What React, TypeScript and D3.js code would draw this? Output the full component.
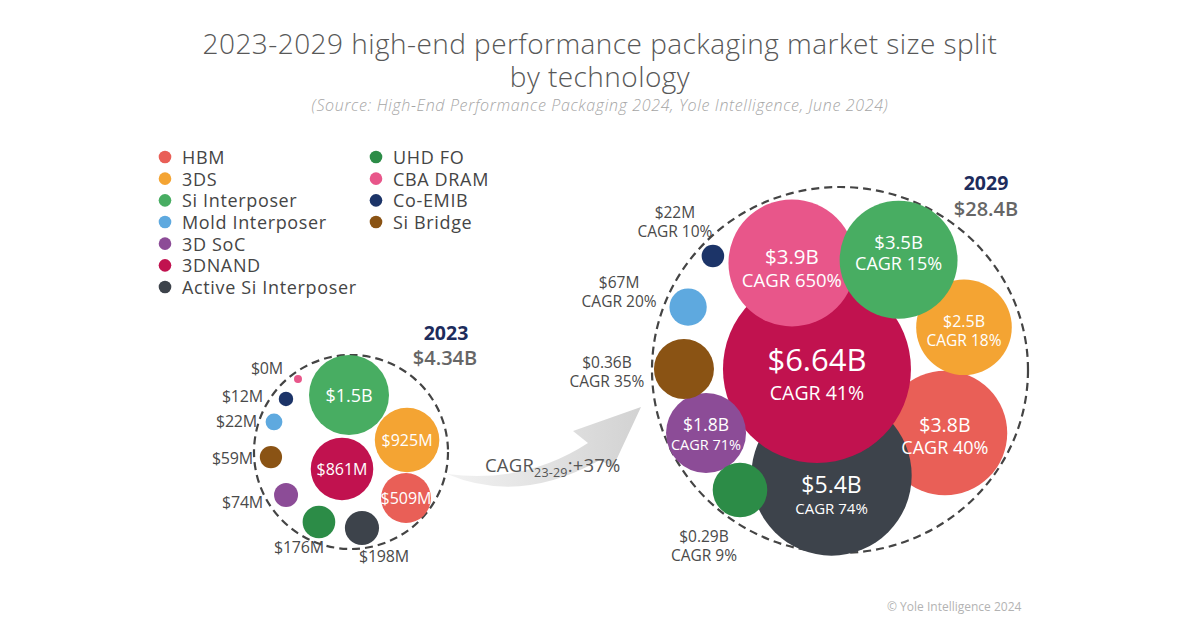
import React from "react";
import * as d3 from "d3";

// ---------- DATA ----------
const technologies = [
  "HBM", "3DS", "Si Interposer", "Mold Interposer", "3D SoC", "3DNAND",
  "Active Si Interposer", "UHD FO", "CBA DRAM", "Co-EMIB", "Si Bridge",
];
const techColors = [
  "#e95f57", "#f4a433", "#48ad62", "#5ea9df", "#8c4c97", "#c1124f",
  "#3d434b", "#2c8c47", "#e8568a", "#1c3468", "#8a5314",
];
const values2023M = [509, 925, 1500, 22, 74, 861, 198, 176, 0, 12, 59];
const labels2023 = ["$509M", "$925M", "$1.5B", "$22M", "$74M", "$861M", "$198M", "$176M", "$0M", "$12M", "$59M"];
const values2029B = [3.8, 2.5, 3.5, 0.067, 1.8, 6.64, 5.4, 0.29, 3.9, 0.022, 0.36];
const labels2029 = ["$3.8B", "$2.5B", "$3.5B", "$67M", "$1.8B", "$6.64B", "$5.4B", "$0.29B", "$3.9B", "$22M", "$0.36B"];
const cagr2329 = [40, 18, 15, 20, 71, 41, 74, 9, 650, 10, 35];
const years = ["2023", "2029"];
const totals = ["$4.34B", "$28.4B"];
const totalCagr = 37;

// ---------- LAYOUT (placement only) ----------
// polar placement of each bubble in its cluster: [angle deg, distance as share of cluster radius]
const place2023: [number, number][] = [
  [39.9, 0.739], [-12.1, 0.591], [-92, 0.588], [-158.7, 0.852], [146.5, 0.803], [117.9, 0.198],
  [81.8, 0.792], [114.6, 0.794], [-126, 0.93], [-140.8, 0.865], [176.4, 0.827],
];
const place2029: [number, number][] = [
  [31, 0.658], [-19, 0.705], [-62, 0.671], [-157.5, 0.884], [154.8, 0.796], [182.5, 0.124],
  [94.6, 0.569], [129.8, 0.84], [-114.2, 0.631], [-138.1, 0.918], [180.4, 0.839],
];
// label placement 2023: inside | [anchor, dx, dy]
const lab2023: (null | [string, number, number])[] = [
  null, null, null, ["end", -17, -1], ["end", -23, 7], null,
  ["middle", 22, 28], ["middle", -20, 25], ["end", -15, -11], ["end", -23, -3], ["end", -18, 1],
];
const inner2023Size = [16, 16, 18, 0, 0, 16, 0, 0, 0, 0, 0];
// label placement 2029: inside [valueSize, cagrSize, valueDy, cagrDy] | outside [dx, dy]
const lab2029: any[] = [
  { s: [19.5, 18, -9, 14] }, { s: [16, 15.5, -6, 13] }, { s: [18.5, 18, -18, 3] },
  { o: [-69, -25] }, { s: [17.5, 14.5, -9, 11] }, { s: [31, 19.5, -10, 24] },
  { s: [23, 15, 9, 33] }, { o: [-36, 46] }, { s: [20.5, 18.5, -7, 17] },
  { o: [-38, -44] }, { o: [-77, -7] },
];
const order2029 = [0, 1, 6, 5, 8, 2, 4, 10, 3, 9, 7];

const FONT = "'Open Sans', 'Noto Sans', sans-serif";
const W = 1200, H = 630;

const c23 = { x: 351, y: 452, r: 97 };
const c29 = { x: 840, y: 370, rx: 188, ry: 183, r: 186 };

const r2023 = d3.scaleSqrt().domain([0, 1500]).range([4, 40]);
const r2029 = d3.scaleLinear().domain([0, 0.05, 0.36, 1.8, 6.64]).range([6, 18, 30, 40, 94]);

function polar(c: { x: number; y: number; r: number }, p: [number, number]) {
  const a = (p[0] * Math.PI) / 180;
  return { x: c.x + Math.cos(a) * p[1] * c.r, y: c.y + Math.sin(a) * p[1] * c.r };
}

const bubbles23 = technologies.map((t, i) => ({ i, ...polar(c23, place2023[i]), r: r2023(values2023M[i]) }));
const bubbles29 = technologies.map((t, i) => ({ i, ...polar(c29, place2029[i]), r: r2029(values2029B[i]) }));

export default function App() {
  const textCol = "#4a4a4a";
  const legendY = d3.scaleLinear().domain([0, 6]).range([157, 287]);
  return (
    <svg width={W} height={H} style={{ position: "absolute", left: 0, top: 0, background: "#fff" }} fontFamily={FONT}>
      <defs>
        <linearGradient id="arrowGrad" x1="0" x2="1" y1="0" y2="0">
          <stop offset="0" stopColor="#f2f2f2" />
          <stop offset="1" stopColor="#d2d2d2" />
        </linearGradient>
      </defs>
      <rect width={W} height={H} fill="#fff" />
      {/* Title */}
      <text x={600} y={54} textAnchor="middle" fontSize={28} fontWeight={300} fill="#585858" letterSpacing={0.45}>
        2023-2029 high-end performance packaging market size split
      </text>
      <text x={600} y={87} textAnchor="middle" fontSize={28} fontWeight={300} fill="#585858" letterSpacing={0.45}>
        by technology
      </text>
      <text x={600} y={111} textAnchor="middle" fontSize={16} fontStyle="italic" fontWeight={300} fill="#a6a6a6" letterSpacing={0.65}>
        (Source: High-End Performance Packaging 2024, Yole Intelligence, June 2024)
      </text>

      {/* Legend */}
      {technologies.map((t, i) => {
        const col = i < 7 ? 0 : 1;
        const row = col === 0 ? i : i - 7;
        const y = legendY(row);
        const x = col === 0 ? 165 : 376;
        return (
          <g key={t}>
            <circle cx={x} cy={y} r={6.3} fill={techColors[i]} />
            <text x={x + 17} y={y} dominantBaseline="central" fontSize={18} fontWeight={500} fill="#454545" letterSpacing={0.65}>
              {t}
            </text>
          </g>
        );
      })}

      {/* Arrow */}
      <path
        d="M447,474 Q520,505 600,460 L613,467 L641,407 L573,431 L588,443 Q525,484 447,474 Z"
        fill="url(#arrowGrad)"
      />
      <text x={485} y={472} fontSize={18.5} fontWeight={500} fill="#555" letterSpacing={0.2}>
        CAGR
        <tspan fontSize={12.5} dy={5}>23-29</tspan>
        <tspan dy={-5}>:+{totalCagr}%</tspan>
      </text>

      {/* 2023 cluster */}
      <circle cx={c23.x} cy={c23.y} r={c23.r} fill="none" stroke="#444" strokeWidth={2.2} strokeDasharray="8 5" />
      {bubbles23.map((b) => (
        <circle key={"b23" + b.i} cx={b.x} cy={b.y} r={b.r} fill={techColors[b.i]} />
      ))}
      {bubbles23.map((b) => {
        const l = lab2023[b.i];
        if (!l) {
          return (
            <text key={"l23" + b.i} x={b.x} y={b.y} textAnchor="middle" dominantBaseline="central"
              fontSize={inner2023Size[b.i]} fontWeight={500} fill="#fff">
              {labels2023[b.i]}
            </text>
          );
        }
        return (
          <text key={"l23" + b.i} x={b.x + l[1]} y={b.y + l[2]} textAnchor={l[0]} dominantBaseline="central"
            fontSize={16} fontWeight={500} fill={textCol} letterSpacing={-0.2}>
            {labels2023[b.i]}
          </text>
        );
      })}
      <text x={446} y={340} textAnchor="middle" fontSize={19.5} fontWeight={700} fill="#1d2c5c">{years[0]}</text>
      <text x={445} y={365} textAnchor="middle" fontSize={20} fontWeight={600} fill="#666">{totals[0]}</text>

      {/* 2029 cluster */}
      <ellipse cx={c29.x} cy={c29.y} rx={c29.rx} ry={c29.ry} fill="none" stroke="#444" strokeWidth={2.2} strokeDasharray="8 5" />
      {order2029.map((i) => {
        const b = bubbles29[i];
        return <circle key={"b29" + i} cx={b.x} cy={b.y} r={b.r} fill={techColors[i]} />;
      })}
      {bubbles29.map((b) => {
        const l = lab2029[b.i];
        if (l.s) {
          const [vs, cs, vdy, cdy] = l.s;
          return (
            <g key={"l29" + b.i} fill="#fff" textAnchor="middle">
              <text x={b.x} y={b.y + vdy} dominantBaseline="central" fontSize={vs} fontWeight={500}>
                {labels2029[b.i]}
              </text>
              <text x={b.x} y={b.y + cdy} dominantBaseline="central" fontSize={cs} fontWeight={500}>
                CAGR {cagr2329[b.i]}%
              </text>
            </g>
          );
        }
        const [dx, dy] = l.o;
        return (
          <g key={"l29" + b.i} fill={textCol} textAnchor="middle" fontSize={15.5} fontWeight={500} letterSpacing={0}>
            <text x={b.x + dx} y={b.y + dy} dominantBaseline="central">{labels2029[b.i]}</text>
            <text x={b.x + dx} y={b.y + dy + 19} dominantBaseline="central">CAGR {cagr2329[b.i]}%</text>
          </g>
        );
      })}
      <text x={986} y={190} textAnchor="middle" fontSize={19.5} fontWeight={700} fill="#1d2c5c">{years[1]}</text>
      <text x={986} y={216} textAnchor="middle" fontSize={20} fontWeight={600} fill="#666">{totals[1]}</text>

      {/* Copyright */}
      <text x={887} y={611} fontSize={12} fill="#b3b3b3">© Yole Intelligence 2024</text>
    </svg>
  );
}
